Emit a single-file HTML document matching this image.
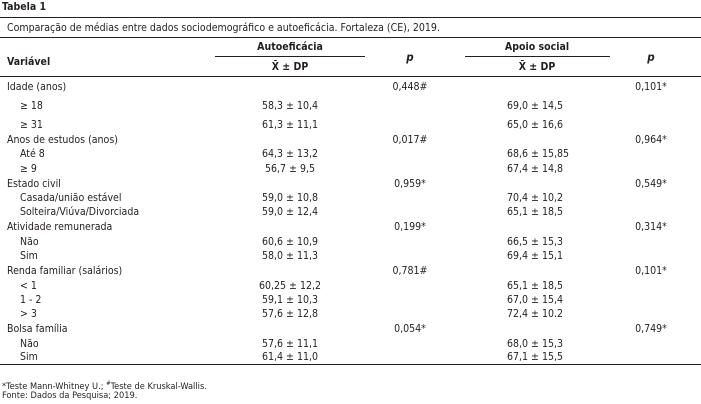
<!DOCTYPE html>
<html><head><meta charset="utf-8"><style>
body{margin:0;background:#fff;}
#t{position:relative;width:701px;height:404px;font-family:"DejaVu Sans Condensed","Liberation Sans",sans-serif;font-size:10.5px;color:#231f20;overflow:hidden;font-weight:500;}
#t span{position:absolute;white-space:nowrap;line-height:12px;}
.c{transform:translateX(-50%);}
.b{font-weight:bold;}
.ln{position:absolute;background:#231f20;height:1.3px;}
</style></head><body>
<div id="t">
<span class="b" style="left:2px;top:1px;font-size:10.5px">Tabela 1</span>
<div class="ln" style="left:0;top:17px;width:701px"></div>
<span style="left:7px;top:22px">Comparação de médias entre dados sociodemográfico e autoeficácia. Fortaleza (CE), 2019.</span>
<div class="ln" style="left:0;top:37px;width:701px"></div>
<span class="b" style="left:7px;top:56px">Variável</span>
<span class="b c" style="left:290px;top:41px">Autoeficácia</span>
<span class="b c" style="left:537px;top:41px">Apoio social</span>
<div class="ln" style="left:215px;top:56px;width:150px;height:1px"></div>
<div class="ln" style="left:465px;top:56px;width:145px;height:1px"></div>
<span class="b c" style="left:290px;top:61px">X̄ ± DP</span>
<span class="b c" style="left:537px;top:61px">X̄ ± DP</span>
<span class="b c" style="left:410px;top:51px;font-style:italic;font-size:11.5px">p</span>
<span class="b c" style="left:651px;top:51px;font-style:italic;font-size:11.5px">p</span>
<div class="ln" style="left:0;top:76px;width:701px"></div>
<div class="ln" style="left:0;top:364px;width:701px"></div>
<span style="left:2px;top:378px;font-size:9.2px">*Teste Mann-Whitney U.; <sup style="font-size:6px">#</sup>Teste de Kruskal-Wallis.</span>
<span style="left:2px;top:390px;font-size:9.2px">Fonte: Dados da Pesquisa; 2019.</span>
</div>
<script>
const rows=[
["Idade (anos)",0,"","0,448#","","0,101*",81],
["≥ 18",1,"58,3 ± 10,4","","69,0 ± 14,5","",100],
["≥ 31",1,"61,3 ± 11,1","","65,0 ± 16,6","",119],
["Anos de estudos (anos)",0,"","0,017#","","0,964*",134],
["Até 8",1,"64,3 ± 13,2","","68,6 ± 15,85","",148],
["≥ 9",1,"56,7 ± 9,5","","67,4 ± 14,8","",163],
["Estado civil",0,"","0,959*","","0,549*",178],
["Casada/união estável",1,"59,0 ± 10,8","","70,4 ± 10,2","",192],
["Solteira/Viúva/Divorciada",1,"59,0 ± 12,4","","65,1 ± 18,5","",206],
["Atividade remunerada",0,"","0,199*","","0,314*",221],
["Não",1,"60,6 ± 10,9","","66,5 ± 15,3","",236],
["Sim",1,"58,0 ± 11,3","","69,4 ± 15,1","",250],
["Renda familiar (salários)",0,"","0,781#","","0,101*",265],
["< 1",1,"60,25 ± 12,2","","65,1 ± 18,5","",280],
["1 - 2",1,"59,1 ± 10,3","","67,0 ± 15,4","",294],
["> 3",1,"57,6 ± 12,8","","72,4 ± 10.2","",308],
["Bolsa família",0,"","0,054*","","0,749*",323],
["Não",1,"57,6 ± 11,1","","68,0 ± 15,3","",338],
["Sim",1,"61,4 ± 11,0","","67,1 ± 15,5","",351]];
const host=document.getElementById('t');
function add(txt,left,top,cls,name){
 const s=document.createElement('span');
 s.textContent=txt;s.style.left=left+'px';s.style.top=top+'px';
 if(cls)s.className=cls;
 
 
 host.appendChild(s);}
rows.forEach((r,i)=>{
 add(r[0],r[1]?20:7,r[6],'',r[1]?'row-label-sub':'row-label-category');
 if(r[2])add(r[2],290,r[6],'c','value-autoeficacia');
 if(r[3])add(r[3],410,r[6],'c','p-autoeficacia');
 if(r[4])add(r[4],507,r[6],'','value-apoio');
 if(r[5])add(r[5],651,r[6],'c','p-apoio');
});
</script>
</body></html>
